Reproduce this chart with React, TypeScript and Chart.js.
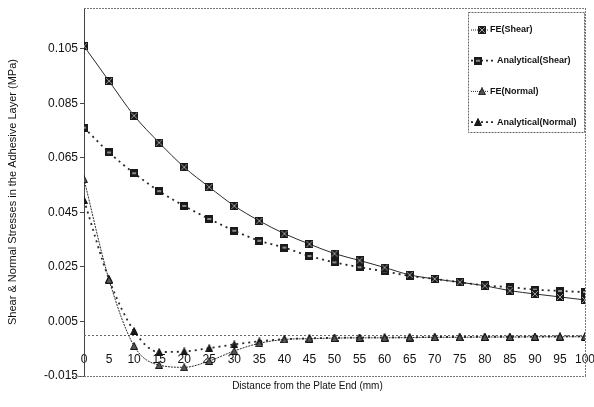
import React, { useEffect, useRef } from "react";
import { Chart, registerables } from "chart.js";

Chart.register(...registerables);

const distances = [0, 5, 10, 15, 20, 25, 30, 35, 40, 45, 50, 55, 60, 65, 70, 75, 80, 85, 90, 95, 100];
const feShear = [0.106, 0.0932, 0.0805, 0.0706, 0.0616, 0.0543, 0.0474, 0.0419, 0.0372, 0.0334, 0.0299, 0.0274, 0.0248, 0.0221, 0.0206, 0.0194, 0.0181, 0.0163, 0.0151, 0.014, 0.0129];
const anShear = [0.0761, 0.067, 0.0594, 0.0528, 0.0474, 0.0426, 0.0383, 0.0346, 0.0321, 0.029, 0.0267, 0.0249, 0.0234, 0.0217, 0.0206, 0.0194, 0.0182, 0.0176, 0.0167, 0.0162, 0.0158];
const feNormal = [0.0572, 0.0203, -0.004, -0.011, -0.0118, -0.0095, -0.0058, -0.003, -0.0016, -0.0013, -0.0011, -0.001, -0.001, -0.0009, -0.0008, -0.0008, -0.0007, -0.0007, -0.0006, -0.0006, -0.0006];
const anNormal = [0.0495, 0.0205, 0.0015, -0.0062, -0.006, -0.0048, -0.0034, -0.0023, -0.0015, -0.0012, -0.001, -0.0009, -0.0008, -0.0008, -0.0007, -0.0007, -0.0006, -0.0006, -0.0006, -0.0005, -0.0005];
const seriesNames = ["FE(Shear)", "Analytical(Shear)", "FE(Normal)", "Analytical(Normal)"];
const yTickValues = [-0.015, 0.005, 0.025, 0.045, 0.065, 0.085, 0.105];
const xTitle = "Distance from the Plate End (mm)";
const yTitle = "Shear & Normal Stresses in the Adhesive Layer (MPa)";

function makeSquare(hatched: boolean): HTMLCanvasElement {
  const c = document.createElement("canvas");
  c.width = 8;
  c.height = 8;
  const g = c.getContext("2d")!;
  g.fillStyle = "#1a1a1a";
  g.fillRect(0, 0, 8, 8);
  if (hatched) {
    g.strokeStyle = "#9a9a9a";
    g.lineWidth = 1;
    g.beginPath();
    g.moveTo(1, 1); g.lineTo(7, 7);
    g.moveTo(7, 1); g.lineTo(1, 7);
    g.stroke();
  } else {
    g.fillStyle = "#8a8a8a";
    g.fillRect(2, 3, 4, 2);
  }
  return c;
}

function makeTriangle(filled: boolean): HTMLCanvasElement {
  const c = document.createElement("canvas");
  c.width = 8;
  c.height = 8;
  const g = c.getContext("2d")!;
  g.beginPath();
  g.moveTo(4, 0.5);
  g.lineTo(7.5, 7.5);
  g.lineTo(0.5, 7.5);
  g.closePath();
  g.fillStyle = filled ? "#1a1a1a" : "#555";
  g.fill();
  g.strokeStyle = "#111";
  g.lineWidth = 1;
  g.stroke();
  return c;
}

export default function App() {
  const ref = useRef<HTMLCanvasElement | null>(null);

  useEffect(() => {
    if (!ref.current) return;
    const markers = [makeSquare(true), makeSquare(false), makeTriangle(false), makeTriangle(true)];
    const dashes: number[][] = [[], [2, 4], [2, 1], [2, 4]];
    const widths = [1, 1.8, 1, 1.8];
    const values = [feShear, anShear, feNormal, anNormal];

    const datasets = values.map((vals, i) => ({
      label: seriesNames[i],
      data: distances.map((d, j) => ({ x: d, y: vals[j] })),
      borderColor: "#2a2a2a",
      backgroundColor: "#2a2a2a",
      borderWidth: widths[i],
      borderDash: dashes[i],
      pointStyle: markers[i] as any,
      pointRadius: 4,
      cubicInterpolationMode: "monotone" as const,
      fill: false,
    }));

    const zeroLinePlugin = {
      id: "zeroLine",
      beforeDatasetsDraw(chart: any) {
        const { ctx, chartArea, scales } = chart;
        const y0 = Math.round(scales.y.getPixelForValue(0)) + 0.5;
        ctx.save();
        ctx.strokeStyle = "#666";
        ctx.lineWidth = 1;
        ctx.setLineDash([2, 2]);
        ctx.beginPath();
        ctx.moveTo(chartArea.left, y0);
        ctx.lineTo(chartArea.right, y0);
        ctx.stroke();
        ctx.restore();
      },
    };

    const framePlugin = {
      id: "frame",
      afterDraw(chart: any) {
        const { ctx, chartArea } = chart;
        const { left, right, top, bottom } = chartArea;
        ctx.save();
        ctx.strokeStyle = "#777";
        ctx.lineWidth = 1;
        ctx.setLineDash([2, 1]);
        ctx.beginPath();
        ctx.moveTo(left, top + 0.5);
        ctx.lineTo(right + 1, top + 0.5);
        ctx.moveTo(right + 0.5, top);
        ctx.lineTo(right + 0.5, bottom);
        ctx.moveTo(left - 12, bottom + 0.5);
        ctx.lineTo(right + 1, bottom + 0.5);
        ctx.stroke();
        ctx.setLineDash([]);
        // x title
        ctx.fillStyle = "#111";
        ctx.font = "10px 'Liberation Sans', Arial, sans-serif";
        ctx.textAlign = "center";
        ctx.textBaseline = "middle";
        ctx.fillText(xTitle, left + (right - left) * 0.446, bottom + 10);
        // legend
        const bx = 468, by = 12, bw = 116, bh = 120;
        ctx.fillStyle = "#fff";
        ctx.fillRect(bx, by, bw, bh);
        ctx.strokeStyle = "#666";
        ctx.setLineDash([2, 1]);
        ctx.strokeRect(bx + 0.5, by + 0.5, bw, bh);
        seriesNames.forEach((name, i) => {
          const y = 30 + i * 30.7;
          const isAn = i % 2 === 1;
          ctx.strokeStyle = "#2a2a2a";
          ctx.lineWidth = widths[i];
          ctx.setLineDash(isAn ? [2, 3] : [1, 1]);
          ctx.beginPath();
          ctx.moveTo(471, y);
          ctx.lineTo(isAn ? 495 : 489, y);
          ctx.stroke();
          ctx.setLineDash([]);
          const mx = isAn ? 478 : 482;
          ctx.drawImage(markers[i], mx - 4, y - 4);
          ctx.fillStyle = "#111";
          ctx.font = "bold 9px 'Liberation Sans', Arial, sans-serif";
          ctx.textAlign = "left";
          ctx.textBaseline = "middle";
          ctx.fillText(name, isAn ? 497 : 490, y);
        });
        ctx.restore();
      },
    };

    const chart = new Chart(ref.current, {
      type: "line",
      data: { datasets },
      options: {
        responsive: false,
        animation: false,
        layout: { padding: { left: 0, right: 9, top: 8, bottom: 31 } },
        plugins: {
          legend: { display: false },
          tooltip: { enabled: false },
        },
        scales: {
          x: {
            type: "linear",
            min: 0,
            max: 100,
            position: { y: 0 } as any,
            afterFit(scale: any) {
              scale.height = 0;
              scale.paddingLeft = 0;
              scale.paddingRight = 0;
            },
            afterBuildTicks(scale: any) {
              scale.ticks = distances.map((v) => ({ value: v }));
            },
            grid: { display: false },
            border: { display: false },
            ticks: {
              autoSkip: false,
              maxRotation: 0,
              padding: 9,
              color: "#111",
              font: { size: 12, family: "'Liberation Sans', Arial, sans-serif" },
              callback: (v: any) => String(v),
            },
          },
          y: {
            type: "linear",
            min: -0.015,
            max: 0.12,
            afterFit(scale: any) {
              scale.width = 84;
              scale.paddingTop = 0;
              scale.paddingBottom = 0;
            },
            afterBuildTicks(scale: any) {
              scale.ticks = yTickValues.map((v) => ({ value: v }));
            },
            grid: { drawOnChartArea: false, drawTicks: true, tickLength: 4, color: "#444" },
            border: { display: true, color: "#444", width: 1 },
            ticks: {
              padding: 2,
              color: "#111",
              font: { size: 12, family: "'Liberation Sans', Arial, sans-serif" },
              callback: (v: any) => Number(v).toFixed(3),
            },
            title: {
              display: true,
              text: yTitle,
              color: "#111",
              padding: { top: 6, bottom: 2 },
              font: { size: 11, family: "'Liberation Sans', Arial, sans-serif" },
            },
          },
        },
      },
      plugins: [zeroLinePlugin, framePlugin],
    });
    return () => chart.destroy();
  }, []);

  return (
    <div style={{ position: "fixed", left: 0, top: 0, width: 594, height: 407, background: "#fff" }}>
      <canvas ref={ref} width={594} height={407} style={{ width: 594, height: 407 }} />
    </div>
  );
}
